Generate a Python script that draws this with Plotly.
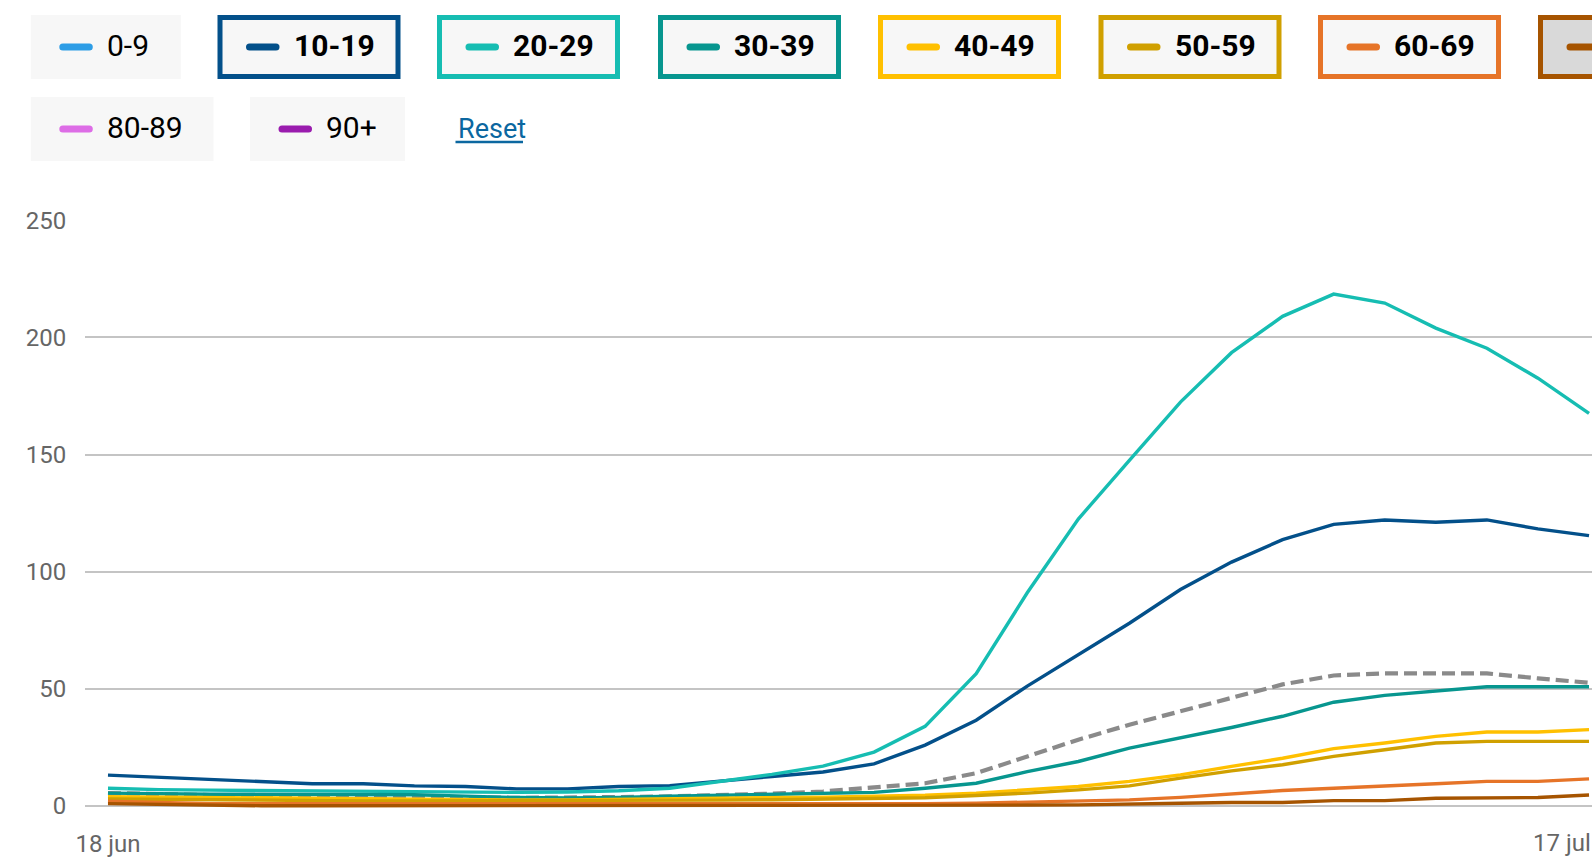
import plotly.graph_objects as go
import pandas as pd

# ---------------- data ----------------
dates = pd.date_range("2021-06-18", periods=30, freq="D")

categories = ["0-9", "10-19", "20-29", "30-39", "40-49", "50-59", "60-69", "70-79", "80-89", "90+"]
cat_colors = ["#2d9de6", "#03508a", "#16bdb2", "#07968f", "#ffc000", "#d0a000", "#e67428", "#a65400", "#dd6de6", "#9a1cae"]
cat_selected = [False, True, True, True, True, True, True, True, False, False]

v10_19 = [13.2, 12.3, 11.4, 10.5, 9.5, 9.5, 8.6, 8.3, 7.3, 7.3, 8.3, 8.7, 10.5, 12.6, 14.5,
          18.0, 26.0, 36.6, 51.2, 64.7, 78.0, 92.4, 104.1, 113.7, 120.2, 122.1, 121.1, 122.1, 118.3, 115.4]
v20_29 = [7.6, 7.0, 6.8, 6.6, 6.5, 6.2, 6.0, 5.8, 5.8, 6.0, 6.5, 7.6, 10.5, 13.5, 17.0,
          23.0, 34.0, 56.5, 91.0, 122.5, 147.5, 172.4, 193.5, 209.0, 218.5, 214.7, 204.0, 195.4, 182.6, 167.6]
v30_39 = [5.5, 5.2, 5.0, 5.0, 5.0, 5.0, 4.8, 4.2, 3.6, 3.4, 3.6, 4.2, 4.6, 4.9, 5.1,
          5.8, 7.6, 9.7, 14.7, 19.0, 24.7, 29.0, 33.5, 38.3, 44.3, 47.2, 49.0, 50.9, 50.9, 50.9]
v40_49 = [4.0, 3.8, 3.5, 3.3, 3.2, 3.2, 3.0, 2.8, 2.6, 2.6, 2.8, 3.0, 3.2, 3.5, 3.8,
          4.2, 4.6, 5.5, 6.9, 8.3, 10.5, 13.3, 16.9, 20.4, 24.5, 26.9, 29.7, 31.6, 31.6, 32.6]
v50_59 = [3.0, 2.8, 2.6, 2.4, 2.3, 2.2, 2.2, 2.2, 2.2, 2.2, 2.2, 2.3, 2.5, 2.7, 3.0,
          3.2, 3.5, 4.5, 5.5, 6.9, 8.6, 11.9, 15.0, 17.6, 21.2, 24.0, 26.9, 27.6, 27.6, 27.6]
v60_69 = [2.0, 1.5, 1.0, 1.0, 1.0, 1.0, 1.0, 1.0, 0.8, 0.8, 0.8, 1.0, 1.0, 1.0, 1.0,
          1.0, 1.0, 1.2, 1.6, 1.9, 2.6, 3.7, 5.1, 6.6, 7.6, 8.7, 9.5, 10.5, 10.5, 11.6]
v70_79 = [1.0, 0.6, 0.2, 0.1, 0.1, 0.1, 0.1, 0.1, 0.1, 0.1, 0.1, 0.1, 0.2, 0.2, 0.2,
          0.2, 0.3, 0.3, 0.4, 0.5, 1.0, 1.2, 1.5, 1.5, 2.3, 2.3, 3.3, 3.6, 3.6, 4.7]
totaal = [5.5, 5.0, 4.7, 4.5, 4.2, 4.0, 4.0, 3.7, 3.5, 3.5, 3.8, 4.1, 4.6, 5.3, 6.2,
          8.0, 9.7, 14.0, 21.2, 28.3, 34.7, 40.4, 46.2, 51.9, 55.7, 56.6, 56.6, 56.6, 54.5, 52.6]

series = {"10-19": v10_19, "20-29": v20_29, "30-39": v30_39, "40-49": v40_49,
          "50-59": v50_59, "60-69": v60_69, "70-79": v70_79}

y_ticks = [0, 50, 100, 150, 200, 250]
x_tick_labels = ["18 jun", "17 jul"]

# ---------------- layout constants ----------------
FIG_W, FIG_H = 1592, 860
L, R, T, B = 85, 1592, 220, 808
PW, PH = R - L, B - T
FONT = "Roboto"


def px(x):
    return (x - L) / PW


def py(y):
    return (B - y) / PH


fig = go.Figure()

fig.add_trace(go.Scatter(x=dates, y=totaal, mode="lines", name="Totaal",
                         line=dict(color="#8a8a8a", width=4.2, dash="13px,6px"),
                         showlegend=False, hoverinfo="skip"))
for name, vals in series.items():
    c = cat_colors[categories.index(name)]
    fig.add_trace(go.Scatter(x=dates, y=vals, mode="lines", name=name,
                             line=dict(color=c, width=3.4), showlegend=False,
                             hoverinfo="skip"))

# ---------------- custom legend (buttons) ----------------
btn_pos = {  # left x, width, row
    "0-9": (30.8, 150, 0), "10-19": (217.5, 183, 0), "20-29": (437, 183, 0),
    "30-39": (658, 183, 0), "40-49": (878, 183, 0), "50-59": (1098.5, 183, 0),
    "60-69": (1318, 183, 0), "70-79": (1538, 183, 0),
    "80-89": (30.8, 182.7, 1), "90+": (250, 155, 1),
}
rows = [(15, 79), (97, 161)]
shapes = []
annotations = []
for cat, col, sel in zip(categories, cat_colors, cat_selected):
    bx, bw, r = btn_pos[cat]
    y0, y1 = rows[r]
    cy = (y0 + y1) / 2
    fill = "#f7f7f7"
    if cat == "70-79":
        fill = "#d9d9d9"
    if sel:
        shapes.append(dict(type="rect", xref="paper", yref="paper",
                           x0=px(bx + 2.5), x1=px(bx + bw - 2.5), y0=py(y0 + 2.5), y1=py(y1 - 2.5),
                           fillcolor=fill, line=dict(color=col, width=5), layer="above"))
    else:
        shapes.append(dict(type="rect", xref="paper", yref="paper",
                           x0=px(bx), x1=px(bx + bw), y0=py(y0), y1=py(y1),
                           fillcolor=fill, line=dict(width=0), layer="above"))
    # rounded dash icon
    ix0, ix1, rr = bx + 28.5, bx + 62, 3.5
    top, bot = cy - rr, cy + rr
    path = (f"M{px(ix0 + rr)},{py(top)} L{px(ix1 - rr)},{py(top)} "
            f"Q{px(ix1)},{py(top)} {px(ix1)},{py(cy)} Q{px(ix1)},{py(bot)} {px(ix1 - rr)},{py(bot)} "
            f"L{px(ix0 + rr)},{py(bot)} Q{px(ix0)},{py(bot)} {px(ix0)},{py(cy)} "
            f"Q{px(ix0)},{py(top)} {px(ix0 + rr)},{py(top)} Z")
    shapes.append(dict(type="path", xref="paper", yref="paper", path=path,
                       fillcolor=col, line=dict(width=0), layer="above"))
    # label text (the 70-79 label lies beyond the right edge of the page, as in the original)
    if bx + 74 < FIG_W:
        txt = f"<b>{cat}</b>" if sel else cat
        annotations.append(dict(x=px(bx + 74), y=py(cy - 1.5), xref="paper", yref="paper",
                                xanchor="left", yanchor="middle", text=txt, showarrow=False,
                                font=dict(family=FONT, size=30, color="#000000")))

# Reset link
annotations.append(dict(x=px(455.5), y=py(129), xref="paper", yref="paper",
                        xanchor="left", yanchor="middle", text="Reset", showarrow=False,
                        font=dict(family=FONT, size=27, color="#0b67a0")))
shapes.append(dict(type="line", xref="paper", yref="paper",
                   x0=px(455.5), x1=px(523), y0=py(142), y1=py(142),
                   line=dict(color="#0b67a0", width=2.5)))

# right edge x label (shifted inside like the original)
annotations.append(dict(x=dates[-1], y=0, xref="x", yref="paper", xanchor="left",
                        yanchor="top", xshift=-58, yshift=-19, text=x_tick_labels[1],
                        showarrow=False, font=dict(family=FONT, size=24, color="#666666")))

fig.update_layout(
    width=FIG_W, height=FIG_H,
    margin=dict(l=L, r=FIG_W - R, t=T, b=FIG_H - B, pad=0),
    plot_bgcolor="white", paper_bgcolor="white",
    shapes=shapes, annotations=annotations,
    showlegend=False,
    xaxis=dict(range=[pd.Timestamp("2021-06-18") - pd.Timedelta(hours=10.8),
                      pd.Timestamp("2021-07-17") + pd.Timedelta(hours=1.4)],
               tickvals=[dates[0]], ticktext=[x_tick_labels[0]],
               showgrid=False, zeroline=False, showline=False,
               ticks="outside", ticklen=14, tickcolor="rgba(0,0,0,0)",
               tickfont=dict(family=FONT, size=24, color="#666666")),
    yaxis=dict(range=[-0.85, 250.13], tickvals=y_ticks,
               showgrid=True, gridcolor="#c4c4c4", gridwidth=2,
               zeroline=False, showline=False,
               ticks="outside", ticklen=13, tickcolor="rgba(0,0,0,0)",
               tickfont=dict(family=FONT, size=24, color="#666666")),
)

fig.write_html("out.html")
